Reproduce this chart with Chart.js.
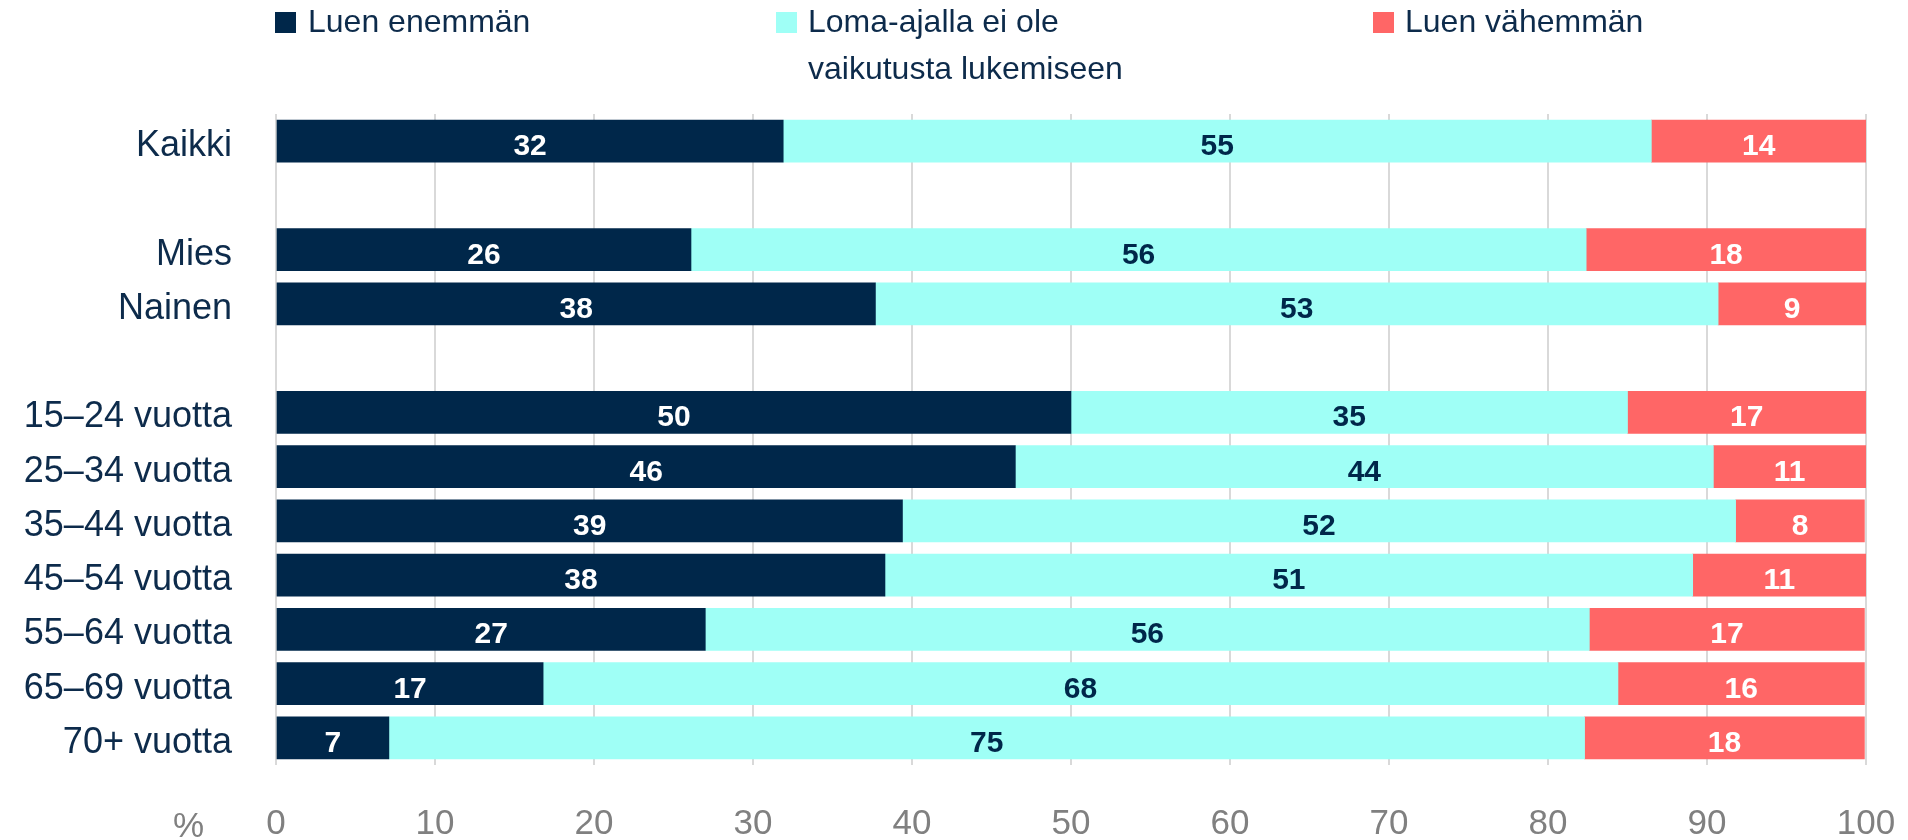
<!DOCTYPE html>
<html><head><meta charset="utf-8">
<script src="https://cdn.jsdelivr.net/npm/chart.js@4.4.1/dist/chart.umd.min.js"></script>
<style>
html,body{margin:0;padding:0;background:#fff;}
#wrap{position:relative;width:1908px;height:840px;overflow:hidden;font-family:"Liberation Sans",Arial,sans-serif;}
canvas{position:absolute;left:0;top:0;}
.leg{position:absolute;top:-2px;font-size:32px;line-height:47px;color:#0d2b4b;white-space:nowrap;}
.sw{position:absolute;width:21px;height:21px;top:12px;}
#pct{position:absolute;left:173px;top:805px;font-size:35px;line-height:40px;color:#808080;}
</style></head>
<body><div id="wrap">
<canvas id="c" width="1908" height="840"></canvas>
<div id="legend"></div>
<div id="pct">%</div>
</div>
<script>
// ---- data ----
const categories = ['Kaikki', '', 'Mies', 'Nainen', '', '15–24 vuotta', '25–34 vuotta', '35–44 vuotta', '45–54 vuotta', '55–64 vuotta', '65–69 vuotta', '70+ vuotta'];
const seriesNames = ['Luen enemmän', 'Loma-ajalla ei ole\nvaikutusta lukemiseen', 'Luen vähemmän'];
// bar lengths
const moreValues     = [31.9, null, 26.1, 37.7, null, 50.0, 46.5, 39.4, 38.3, 27.0, 16.8, 7.1];
const noEffectValues = [54.6, null, 56.3, 53.0, null, 35.0, 43.9, 52.4, 50.8, 55.6, 67.6, 75.2];
const lessValues     = [13.5, null, 17.6, 9.3, null, 15.0, 9.6, 8.1, 10.9, 17.3, 15.5, 17.6];
// numbers printed on the bars
const moreLabels     = [32, null, 26, 38, null, 50, 46, 39, 38, 27, 17, 7];
const noEffectLabels = [55, null, 56, 53, null, 35, 44, 52, 51, 56, 68, 75];
const lessLabels     = [14, null, 18, 9, null, 17, 11, 8, 11, 17, 16, 18];
const xTickLabels = ['0', '10', '20', '30', '40', '50', '60', '70', '80', '90', '100'];

const colors = ['#00274a', '#9ffff6', '#ff6666'];
const labelColors = ['#ffffff', '#00274a', '#ffffff'];
const FONT = '"Liberation Sans", Arial, sans-serif';

// ---- HTML legend ----
const legendPos = [{sw: 275, tx: 308}, {sw: 776, tx: 808}, {sw: 1373, tx: 1405}];
const legendEl = document.getElementById('legend');
seriesNames.forEach((name, i) => {
  const sw = document.createElement('div');
  sw.className = 'sw';
  sw.style.left = legendPos[i].sw + 'px';
  sw.style.background = colors[i];
  legendEl.appendChild(sw);
  const t = document.createElement('div');
  t.className = 'leg';
  t.style.left = legendPos[i].tx + 'px';
  t.innerHTML = name.split('\n').join('<br>');
  legendEl.appendChild(t);
});

// ---- value labels plugin ----
const valueLabels = {
  id: 'valueLabels',
  afterDatasetsDraw(chart) {
    const ctx = chart.ctx, area = chart.chartArea;
    chart.data.datasets.forEach((ds, i) => {
      const meta = chart.getDatasetMeta(i);
      meta.data.forEach((el, j) => {
        const txt = ds.printed[j];
        if (txt == null) return;
        const p = el.getProps(['x', 'base', 'y'], true);
        const l = Math.max(Math.min(p.x, p.base), area.left);
        const r = Math.min(Math.max(p.x, p.base), area.right);
        ctx.save();
        ctx.font = 'bold 30px ' + FONT;
        ctx.fillStyle = ds.labelColor;
        ctx.textAlign = 'center';
        ctx.textBaseline = 'alphabetic';
        ctx.fillText(String(txt), (l + r) / 2, p.y + 14);
        ctx.restore();
      });
    });
  }
};

const datasets = [
  {label: seriesNames[0], data: moreValues, printed: moreLabels},
  {label: seriesNames[1], data: noEffectValues, printed: noEffectLabels},
  {label: seriesNames[2], data: lessValues, printed: lessLabels}
].map((d, i) => Object.assign(d, {
  backgroundColor: colors[i],
  labelColor: labelColors[i],
  borderWidth: 0,
  barThickness: 42
}));

new Chart(document.getElementById('c'), {
  type: 'bar',
  data: {labels: categories, datasets},
  plugins: [valueLabels],
  options: {
    indexAxis: 'y',
    responsive: false,
    animation: false,
    layout: {padding: {left: 0, right: 42, top: 114, bottom: 0}},
    plugins: {legend: {display: false}, tooltip: {enabled: false}},
    scales: {
      x: {
        stacked: true, min: 0, max: 100,
        ticks: {stepSize: 10, color: '#808080', font: {size: 35, family: FONT}, padding: 38, maxRotation: 0,
          callback: (v, idx) => xTickLabels[idx]},
        grid: {color: '#d9d9d9', lineWidth: 2, drawTicks: false},
        border: {display: false},
        afterFit(s) { s.height = 75; s.paddingLeft = 0; s.paddingRight = 0; }
      },
      y: {
        stacked: true,
        ticks: {color: '#0d2b4b', font: {size: 36, family: FONT}, padding: 44, autoSkip: false, labelOffset: 5},
        grid: {display: false, drawTicks: false},
        border: {display: false},
        afterFit(s) { s.width = 276; s.paddingTop = 0; s.paddingBottom = 0; }
      }
    }
  }
});
</script>
</body></html>
